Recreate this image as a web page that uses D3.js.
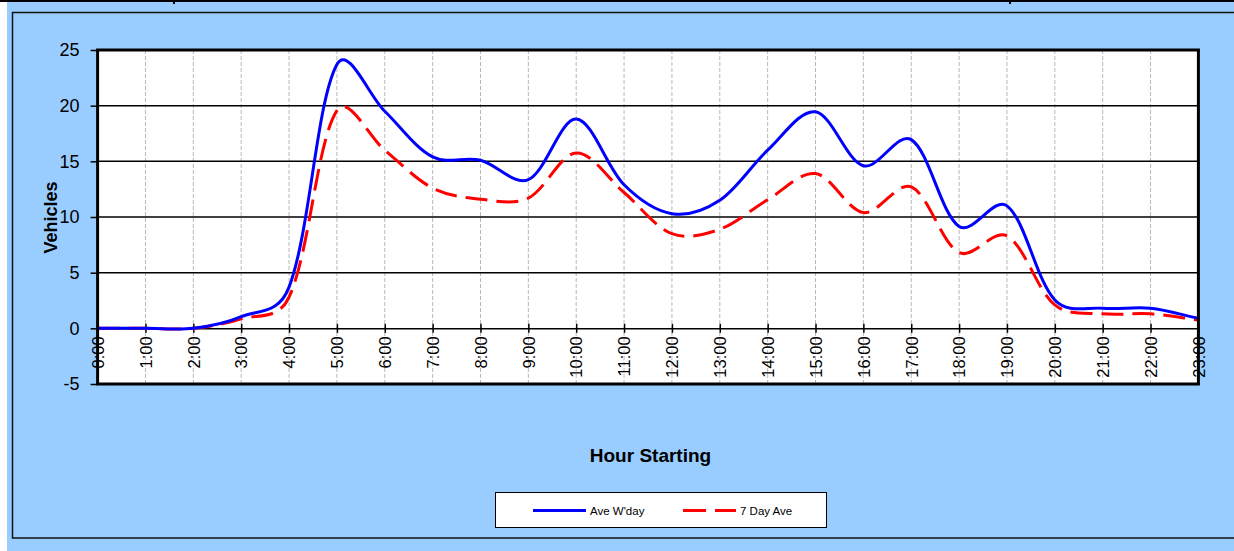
<!DOCTYPE html>
<html>
<head>
<meta charset="utf-8">
<script src="https://cdn.jsdelivr.net/npm/d3@7"></script>
<style>
  body { margin: 0; background: #ffffff; }
  svg { display: block; }
  text { font-family: "Liberation Sans", Arial, sans-serif; fill: #000; }
</style>
</head>
<body>
<div id="chart"></div>
<script>
// ---- data ----
const hours = ["0:00","1:00","2:00","3:00","4:00","5:00","6:00","7:00","8:00","9:00","10:00","11:00",
               "12:00","13:00","14:00","15:00","16:00","17:00","18:00","19:00","20:00","21:00","22:00","23:00"];
const aveWday = [0, 0, 0, 1.05, 3.7, 23.7, 19.5, 15.4, 15.1, 13.35, 18.8, 12.9,
                 10.3, 11.5, 16.0, 19.45, 14.6, 16.95, 9.15, 11.0, 2.55, 1.8, 1.8, 0.9];
const sevenDayAve = [0, 0, 0, 0.85, 2.8, 19.55, 16.0, 12.6, 11.6, 11.7, 15.75, 12.2,
                     8.5, 8.9, 11.55, 13.9, 10.4, 12.7, 6.8, 8.3, 2.1, 1.3, 1.3, 0.75];
const yTicks = [-5, 0, 5, 10, 15, 20, 25];
const seriesNames = ["Ave W'day", "7 Day Ave"];
const yTitle = "Vehicles";
const xTitle = "Hour Starting";

// ---- smoothed-line curve (spreadsheet-style Bezier smoothing) ----
function SmoothCurve(context) { this._context = context; }
SmoothCurve.prototype = {
  areaStart() {}, areaEnd() {},
  lineStart() { this._pts = []; },
  point(px, py) { this._pts.push([+px, +py]); },
  lineEnd() {
    const p = this._pts, n = p.length, c = this._context;
    if (!n) return;
    c.moveTo(p[0][0], p[0][1]);
    if (n === 1) return;
    const w = (a, b) => Math.pow(Math.hypot(b[0] - a[0], b[1] - a[1]), 0.5);
    for (let i = 0; i < n - 1; i++) {
      const p0 = p[Math.max(i - 1, 0)], p1 = p[i], p2 = p[i + 1], p3 = p[Math.min(i + 2, n - 1)];
      const w01 = w(p0, p1), w12 = w(p1, p2), w23 = w(p2, p3);
      const f1 = (w01 + w12) > 0 ? w12 / (w01 + w12) / 3 : 0;
      const f2 = (w12 + w23) > 0 ? w12 / (w12 + w23) / 3 : 0;
      c.bezierCurveTo(
        p1[0] + (p2[0] - p0[0]) * f1, p1[1] + (p2[1] - p0[1]) * f1,
        p2[0] - (p3[0] - p1[0]) * f2, p2[1] - (p3[1] - p1[1]) * f2,
        p2[0], p2[1]);
    }
  }
};
const curveSmooth = ctx => new SmoothCurve(ctx);

// ---- layout ----
const W = 1234, H = 551;
const plot = { left: 97.6, right: 1198.4, top: 50, bottom: 384 };

const svg = d3.select("#chart").append("svg").attr("width", W).attr("height", H);

// background frame
svg.append("rect").attr("x", 7).attr("y", 0).attr("width", W - 7).attr("height", H).attr("fill", "#99CCFF");
svg.append("rect").attr("x", 0).attr("y", 0).attr("width", W).attr("height", 2).attr("fill", "#000");
svg.append("rect").attr("x", 173).attr("y", 0).attr("width", 2).attr("height", 4).attr("fill", "#000");
svg.append("rect").attr("x", 1009).attr("y", 0).attr("width", 2).attr("height", 4).attr("fill", "#000");
svg.append("rect").attr("x", 12.5).attr("y", 12.5).attr("width", 1240).attr("height", 525.5)
  .attr("fill", "none").attr("stroke", "#111").attr("stroke-width", 1.5);

const x = d3.scalePoint().domain(hours).range([plot.left, plot.right]);
const y = d3.scaleLinear().domain([-5, 25]).range([plot.bottom, plot.top]);

// plot background
svg.append("rect").attr("x", plot.left).attr("y", plot.top)
  .attr("width", plot.right - plot.left).attr("height", plot.bottom - plot.top).attr("fill", "#fff");

// vertical dashed grid
svg.append("g").selectAll("line").data(hours).join("line")
  .attr("x1", d => x(d)).attr("x2", d => x(d))
  .attr("y1", plot.top).attr("y2", plot.bottom)
  .attr("stroke", "#b8b8b8").attr("stroke-width", 1).attr("stroke-dasharray", "4,2");

// horizontal grid
svg.append("g").selectAll("line").data(yTicks.filter(v => v > 0 && v < 25)).join("line")
  .attr("x1", plot.left).attr("x2", plot.right)
  .attr("y1", d => y(d)).attr("y2", d => y(d))
  .attr("stroke", "#000").attr("stroke-width", 1.5);

// y axis
const yAxis = svg.append("g").attr("transform", `translate(${plot.left},0)`)
  .call(d3.axisLeft(y).tickValues(yTicks).tickSize(7).tickPadding(11).tickFormat(d => String(d)));
yAxis.select(".domain").remove();
yAxis.selectAll(".tick line").attr("stroke", "#000").attr("stroke-width", 1.5);
yAxis.selectAll(".tick text").attr("font-size", 18).attr("font-family", "Liberation Sans, Arial, sans-serif")
  .attr("fill", "#000");

// x axis at zero (ticks crossing)
const xAxis = svg.append("g").attr("transform", `translate(0,${y(0)})`)
  .call(d3.axisBottom(x).tickSize(0).tickPadding(0));
xAxis.select(".domain").attr("stroke", "#000").attr("stroke-width", 1.5);
xAxis.selectAll(".tick").append("line").attr("y1", -4.5).attr("y2", 4.5)
  .attr("stroke", "#000").attr("stroke-width", 1.5);
xAxis.selectAll(".tick text")
  .attr("font-size", 16.5).attr("font-family", "Liberation Sans, Arial, sans-serif").attr("fill", "#000")
  .attr("text-anchor", "end").attr("transform", "rotate(-90)")
  .attr("x", -8).attr("y", 0).attr("dy", "0.35em");

// lines
const line = d3.line().x((d, i) => x(hours[i])).y(d => y(d)).curve(curveSmooth);
svg.append("path").datum(sevenDayAve).attr("d", line)
  .attr("fill", "none").attr("stroke", "#FF0000").attr("stroke-width", 3)
  .attr("stroke-dasharray", "22,9");
svg.append("path").datum(aveWday).attr("d", line)
  .attr("fill", "none").attr("stroke", "#0000FF").attr("stroke-width", 3);

// plot borders
svg.append("line").attr("x1", plot.left - 1.5).attr("x2", plot.right + 1.5).attr("y1", plot.top).attr("y2", plot.top)
  .attr("stroke", "#000").attr("stroke-width", 3);
svg.append("line").attr("x1", plot.left - 1.5).attr("x2", plot.right + 1.5).attr("y1", plot.bottom).attr("y2", plot.bottom)
  .attr("stroke", "#000").attr("stroke-width", 3);
svg.append("line").attr("x1", plot.left).attr("x2", plot.left).attr("y1", plot.top).attr("y2", plot.bottom)
  .attr("stroke", "#000").attr("stroke-width", 3);
svg.append("line").attr("x1", plot.right).attr("x2", plot.right).attr("y1", plot.top).attr("y2", plot.bottom)
  .attr("stroke", "#000").attr("stroke-width", 3);

// titles
svg.append("text").attr("transform", `translate(56.5,217.5) rotate(-90)`)
  .attr("text-anchor", "middle").attr("font-size", 18).attr("font-weight", "bold").text(yTitle);
svg.append("text").attr("x", 650.5).attr("y", 462.3)
  .attr("text-anchor", "middle").attr("font-size", 19).attr("font-weight", "bold").text(xTitle);

// legend
const lg = svg.append("g");
lg.append("rect").attr("x", 495.5).attr("y", 492.5).attr("width", 331).attr("height", 35)
  .attr("fill", "#fff").attr("stroke", "#000").attr("stroke-width", 1);
const legendItems = [
  { name: seriesNames[0], color: "#0000FF", dash: null, x0: 533 },
  { name: seriesNames[1], color: "#FF0000", dash: "23,9", x0: 683 }
];
legendItems.forEach(it => {
  lg.append("line").attr("x1", it.x0).attr("x2", it.x0 + 53).attr("y1", 510.5).attr("y2", 510.5)
    .attr("stroke", it.color).attr("stroke-width", 3).attr("stroke-dasharray", it.dash);
  lg.append("text").attr("x", it.x0 + 57).attr("y", 514.5).attr("font-size", 11.5).text(it.name);
});
</script>
</body>
</html>
